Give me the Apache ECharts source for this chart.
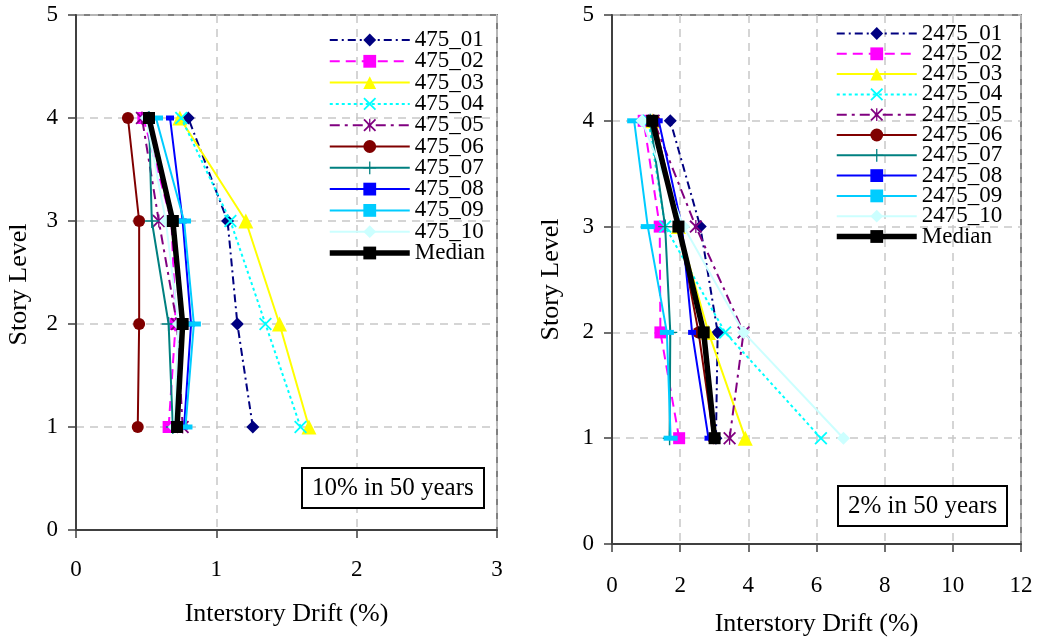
<!DOCTYPE html>
<html>
<head>
<meta charset="utf-8">
<script src="https://cdn.jsdelivr.net/npm/echarts@6/dist/echarts.min.js"></script>
<style>
  html, body { margin: 0; padding: 0; background: #fff; }
  #chart { width: 1039px; height: 642px; }
</style>
</head>
<body>
<div id="chart"></div>
<script>
// Story levels (y values), bottom to top
const storyLevels = [1, 2, 3, 4];

// Axis ticks
const driftTicks475 = [0, 1, 2, 3];
const driftTicks2475 = [0, 2, 4, 6, 8, 10, 12];
const storyTicks = [0, 1, 2, 3, 4, 5];

// Record names
const names475 = ['475_01', '475_02', '475_03', '475_04', '475_05', '475_06', '475_07', '475_08', '475_09', '475_10', 'Median'];
const names2475 = ['2475_01', '2475_02', '2475_03', '2475_04', '2475_05', '2475_06', '2475_07', '2475_08', '2475_09', '2475_10', 'Median '];

// Interstory drift (%) at levels 1..4 — 10% in 50 years
const d475_01 = [1.26, 1.15, 1.08, 0.80];
const d475_02 = [0.66, 0.71, 0.68, 0.48];
const d475_03 = [1.66, 1.45, 1.21, 0.74];
const d475_04 = [1.60, 1.35, 1.10, 0.75];
const d475_05 = [0.76, 0.72, 0.59, 0.47];
const d475_06 = [0.44, 0.45, 0.45, 0.37];
const d475_07 = [0.69, 0.66, 0.54, 0.52];
const d475_08 = [0.77, 0.82, 0.76, 0.67];
const d475_09 = [0.78, 0.84, 0.77, 0.57];
const d475_10 = [0.70, 0.73, 0.64, 0.50];
const d475_med = [0.72, 0.76, 0.69, 0.52];

// Interstory drift (%) at levels 1..4 — 2% in 50 years
const d2475_01 = [3.05, 3.10, 2.59, 1.71];
const d2475_02 = [1.97, 1.42, 1.40, 0.93];
const d2475_03 = [3.91, 2.83, 1.95, 1.20];
const d2475_04 = [6.13, 3.32, 1.56, 1.07];
const d2475_05 = [3.45, 3.86, 2.46, 1.22];
const d2475_06 = [2.98, 2.54, 1.95, 1.25];
const d2475_07 = [1.69, 1.71, 1.56, 1.12];
const d2475_08 = [2.83, 2.35, 2.05, 1.37];
const d2475_09 = [1.72, 1.61, 1.05, 0.65];
const d2475_10 = [6.79, 3.86, 2.10, 0.88];
const d2475_med = [3.01, 2.69, 1.95, 1.18];

const data475 = [d475_01, d475_02, d475_03, d475_04, d475_05, d475_06, d475_07, d475_08, d475_09, d475_10, d475_med];
const data2475 = [d2475_01, d2475_02, d2475_03, d2475_04, d2475_05, d2475_06, d2475_07, d2475_08, d2475_09, d2475_10, d2475_med];

// Marker shapes
const SYM_X = 'path://M2,0L10,8L18,0L20,2L12,10L20,18L18,20L10,12L2,20L0,18L8,10L0,2Z';
const SYM_STAR = 'path://M2,0L10,8L18,0L20,2L12,10L20,18L18,20L10,12L2,20L0,18L8,10L0,2Z M9,0L11,0L11,20L9,20Z';
const SYM_PLUS = 'path://M9,0L11,0L11,9L20,9L20,11L11,11L11,20L9,20L9,11L0,11L0,9L9,9Z';

// Per-record line/marker styles (same order as the names)
const styles = [
  { color: '#000080', type: [8, 4, 2, 4], symbol: 'diamond', size: 13, width: 2 },
  { color: '#FF00FF', type: [10, 6], symbol: 'rect', size: 12, width: 2 },
  { color: '#FFFF00', type: 'solid', symbol: 'triangle', size: 15, width: 2 },
  { color: '#00FFFF', type: [3, 3], symbol: SYM_X, size: 13, width: 2 },
  { color: '#800080', type: [10, 5, 3, 5], symbol: SYM_STAR, size: 13, width: 2 },
  { color: '#800000', type: 'solid', symbol: 'circle', size: 12, width: 2 },
  { color: '#008080', type: 'solid', symbol: SYM_PLUS, size: 14, width: 2 },
  { color: '#0000FF', type: 'solid', symbol: 'rect', size: [8, 5], width: 2 },
  { color: '#00CCFF', type: 'solid', symbol: 'rect', size: [14, 5], width: 2 },
  { color: '#CCFFFF', type: 'solid', symbol: 'diamond', size: 13, width: 2 },
  { color: '#000000', type: 'solid', symbol: 'rect', size: 12, width: 5.5 }
];

const FONT = 'Liberation Serif';

function buildSeries(names, data, idx) {
  return names.map((name, i) => ({
    name: name,
    type: 'line',
    xAxisIndex: idx,
    yAxisIndex: idx,
    data: data[i].map((v, k) => [v, storyLevels[k]]),
    symbol: styles[i].symbol,
    symbolSize: styles[i].size,
    showAllSymbol: true,
    lineStyle: { color: styles[i].color, width: styles[i].width, type: styles[i].type },
    itemStyle: { color: styles[i].color, borderWidth: 0 },
    emphasis: { disabled: true },
    z: 2 + i
  }));
}

function xAxisFor(idx, ticks, nameGap, labelMargin) {
  return {
    type: 'value', gridIndex: idx,
    min: ticks[0], max: ticks[ticks.length - 1], interval: ticks[1] - ticks[0],
    name: 'Interstory Drift (%)', nameLocation: 'middle', nameGap: nameGap,
    nameTextStyle: { fontFamily: FONT, fontSize: 26, color: '#000' },
    axisLine: { onZero: false, lineStyle: { color: '#404040', width: 2 } },
    axisTick: { length: 8, lineStyle: { color: '#404040', width: 1.5 } },
    axisLabel: { fontFamily: FONT, fontSize: 23, color: '#000', margin: labelMargin },
    splitLine: { show: true, lineStyle: { color: '#c8c8c8', width: 1.5, type: [8, 6] } }
  };
}

function yAxisFor(idx, nameGap, namePad) {
  return {
    type: 'value', gridIndex: idx,
    min: storyTicks[0], max: storyTicks[storyTicks.length - 1], interval: 1,
    name: 'Story Level', nameLocation: 'middle', nameGap: nameGap,
    nameTextStyle: { fontFamily: FONT, fontSize: 26, color: '#000', padding: namePad },
    axisLine: { onZero: false, lineStyle: { color: '#404040', width: 2 } },
    axisTick: { length: 8, lineStyle: { color: '#404040', width: 1.5 } },
    axisLabel: { fontFamily: FONT, fontSize: 23, color: '#000', margin: 18 },
    splitLine: { show: true, lineStyle: { color: '#c8c8c8', width: 1.5, type: [8, 6] } }
  };
}

function legendFor(names, left, top, gap) {
  return {
    data: names.map((n, i) => ({ name: n, lineStyle: { width: styles[i].width } })),
    orient: 'vertical', left: left, top: top, padding: 0,
    itemWidth: 80, itemHeight: 16, itemGap: gap, selectedMode: false,
    textStyle: { fontFamily: FONT, fontSize: 23, color: '#000' }
  };
}

function boxTitle(text, left, top) {
  return {
    text: text, left: left, top: top, padding: [7, 10, 7, 10],
    borderColor: '#000', borderWidth: 2, backgroundColor: '#fff',
    textStyle: { fontFamily: FONT, fontSize: 25, fontWeight: 'normal', color: '#000', lineHeight: 26 }
  };
}

const chart = echarts.init(document.getElementById('chart'), null, { renderer: 'canvas' });
chart.setOption({
  animation: false,
  backgroundColor: '#fff',
  title: [boxTitle('10% in 50 years', 302, 468), boxTitle('2% in 50 years', 838, 486)],
  legend: [legendFor(names475, 327, 28.5, -1.7), legendFor(names2475, 834, 22, -2.7)],
  grid: [
    { left: 76, top: 15, width: 421, height: 515, show: true, borderColor: '#808080', borderWidth: 2 },
    { left: 612, top: 15, width: 409, height: 529, show: true, borderColor: '#808080', borderWidth: 2 }
  ],
  xAxis: [xAxisFor(0, driftTicks475, 71, 28), xAxisFor(1, driftTicks2475, 67, 30)],
  yAxis: [yAxisFor(0, 44, [0, 24, 0, 0]), yAxisFor(1, 48, 0)],
  series: buildSeries(names475, data475, 0).concat(buildSeries(names2475, data2475, 1))
});
</script>
</body>
</html>
